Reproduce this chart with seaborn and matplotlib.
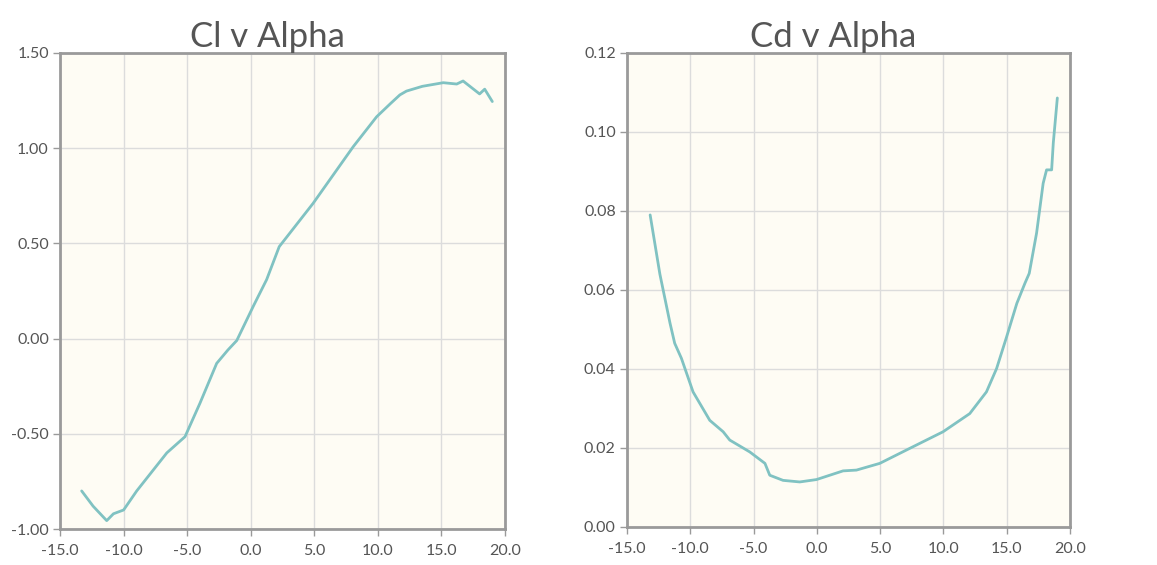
import numpy as np
import pandas as pd
import seaborn as sns
import matplotlib.pyplot as plt

# values
alpha_cl = [-13.3, -12.4, -11.33, -10.8, -10.0, -8.97, -6.6, -5.17, -4.0, -2.68,
            -1.8, -1.1, -0.45, 0.2, 1.25, 2.24, 4.9, 8.06, 9.9, 11.0, 11.73, 12.25,
            13.5, 15.14, 16.2, 16.7, 18.0, 18.4, 19.0]
cl = [-0.80, -0.88, -0.956, -0.92, -0.90, -0.80, -0.60, -0.515, -0.34, -0.13,
      -0.06, -0.01, 0.08, 0.17, 0.31, 0.483, 0.71, 1.008, 1.165, 1.235, 1.28, 1.30,
      1.325, 1.344, 1.337, 1.353, 1.285, 1.31, 1.245]

alpha_cd = [-13.17, -12.4, -11.6, -11.23, -10.7, -9.78, -8.46, -7.4, -6.88, -5.3,
            -4.1, -3.72, -2.67, -1.35, -0.03, 2.07, 3.13, 4.97, 7.34, 9.97,
            12.08, 13.4, 14.2, 15.0, 15.8, 16.44, 16.78, 17.36, 17.88, 18.15,
            18.55, 18.68, 19.0]
cd = [0.0790, 0.0640, 0.0516, 0.0465, 0.0427, 0.0342, 0.0270, 0.0241, 0.0220, 0.0190,
      0.0161, 0.0131, 0.0118, 0.0114, 0.0120, 0.0142, 0.0144, 0.0161, 0.0199, 0.0241,
      0.0287, 0.0342, 0.0401, 0.0482, 0.0566, 0.0617, 0.0642, 0.0744, 0.0870, 0.0904,
      0.0904, 0.0972, 0.1086]

x_ticks = [-15, -10, -5, 0, 5, 10, 15, 20]
cl_ticks = [-1.0, -0.5, 0.0, 0.5, 1.0, 1.5]
cd_ticks = [0.0, 0.02, 0.04, 0.06, 0.08, 0.10, 0.12]

sns.set_theme(style="whitegrid")
plt.rcParams['font.family'] = ['Lato', 'DejaVu Sans']

line_col = '#80c2c2'
text_col = '#555555'

fig = plt.figure(figsize=(11.57, 5.65), dpi=100)
ax1 = fig.add_axes([0.0519, 0.0637, 0.3846, 0.8425])
ax2 = fig.add_axes([0.5419, 0.0673, 0.3829, 0.8390])

df_cl = pd.DataFrame({'alpha': alpha_cl, 'cl': cl})
df_cd = pd.DataFrame({'alpha': alpha_cd, 'cd': cd})

sns.lineplot(data=df_cl, x='alpha', y='cl', ax=ax1, color=line_col, lw=2, sort=False)
sns.lineplot(data=df_cd, x='alpha', y='cd', ax=ax2, color=line_col, lw=2, sort=False)

for ax, title, yt in [(ax1, 'Cl v Alpha', cl_ticks),
                      (ax2, 'Cd v Alpha', cd_ticks)]:
    ax.set_facecolor('#fefcf4')
    ax.set_xlim(-15, 20)
    ax.set_ylim(yt[0], yt[-1])
    ax.set_xticks(x_ticks)
    ax.set_xticklabels(['{:.1f}'.format(v) for v in x_ticks])
    ax.set_yticks(yt)
    ax.set_yticklabels(['{:.2f}'.format(v) for v in yt])
    ax.set_xlabel('')
    ax.set_ylabel('')
    ax.grid(True, color='#dcdcdc', lw=1)
    for s in ax.spines.values():
        s.set_visible(True)
        s.set_color('#9a9a9a')
        s.set_linewidth(2)
    ax.tick_params(axis='both', which='both', length=5, width=1, color='#9a9a9a',
                   labelcolor=text_col, labelsize=11.5, bottom=True, left=True)
    ax.tick_params(axis='x', pad=6)
    ax.tick_params(axis='y', pad=3)
    ax.set_title(title, fontsize=25, color=text_col, pad=3, x=0.466)

fig.savefig('out.png', dpi=100)
